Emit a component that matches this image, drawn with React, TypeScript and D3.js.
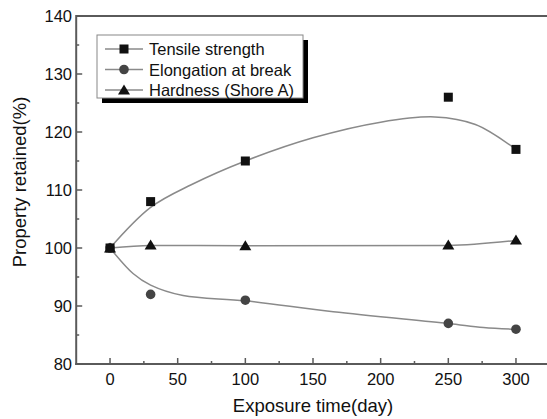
import React from "react";
import * as d3 from "d3";

const days = [0, 30, 100, 250, 300];
const tensile = [100, 108, 115, 126, 117];
const elongation = [100, 92, 91, 87, 86];
const hardness = [100, 100.5, 100.4, 100.5, 101.4];

// smoothed fit curves
const tensileFitDays = [0, 30, 60, 100, 150, 200, 240, 270, 300];
const tensileFitVals = [100, 107, 110.9, 115, 119, 121.7, 122.6, 121.3, 117];
const elongFitDays = [0, 17, 30, 54, 100, 165, 250, 276, 300];
const elongFitVals = [100, 95.6, 93.6, 91.8, 90.9, 89.0, 87.0, 86.3, 86];
const hardFitDays = [0, 30, 100, 250, 300];
const hardFitVals = [100, 100.45, 100.4, 100.45, 101.3];

const xMajor = [0, 50, 100, 150, 200, 250, 300];
const xMinor = [25, 75, 125, 175, 225, 275];
const yMajor = [80, 90, 100, 110, 120, 130, 140];
const yMinor = [85, 95, 105, 115, 125, 135];

const legendLabels = ["Tensile strength", "Elongation at break", "Hardness (Shore A)"];

const W = 547;
const H = 419;
const FONT = "'Liberation Sans', Arial, sans-serif";

export default function App() {
  const x = d3.scaleLinear().domain([-25, 325]).range([76.2, 549.8]);
  const y = d3.scaleLinear().domain([80, 140]).range([364, 16]);
  const line = d3
    .line<[number, number]>()
    .x((d) => x(d[0]))
    .y((d) => y(d[1]))
    .curve(d3.curveCatmullRom.alpha(0.5));
  const lineLin = d3
    .line<[number, number]>()
    .x((d) => x(d[0]))
    .y((d) => y(d[1]))
    .curve(d3.curveMonotoneX);

  const zip = (a: number[], b: number[]) => a.map((v, i) => [v, b[i]] as [number, number]);

  const axisColor = "#5a5a5a";
  const curveColor = "#8a8a8a";

  const square = (cx: number, cy: number, k: string) => (
    <rect key={k} x={cx - 4.5} y={cy - 4.5} width={9} height={9} fill="#111" />
  );
  const circle = (cx: number, cy: number, k: string) => (
    <circle key={k} cx={cx} cy={cy} r={4.8} fill="#444" />
  );
  const tri = (cx: number, cy: number, k: string) => (
    <path key={k} d={`M${cx},${cy - 5.5}L${cx + 6},${cy + 4.5}L${cx - 6},${cy + 4.5}Z`} fill="#111" />
  );

  const markers = [square, circle, tri];
  const left = x(-25);
  const bottom = y(80);

  return (
    <svg width={W} height={H} style={{ position: "absolute", left: 0, top: 0, background: "#fff" }} fontFamily={FONT}>
      {/* frame */}
      <line x1={left} x2={W} y1={y(140)} y2={y(140)} stroke={axisColor} strokeWidth={2} />
      <line x1={left} x2={left} y1={y(140) - 1} y2={bottom + 1} stroke={axisColor} strokeWidth={2} />
      <line x1={left - 1} x2={W} y1={bottom} y2={bottom} stroke={axisColor} strokeWidth={2} />

      {/* x ticks */}
      {xMajor.map((t) => (
        <g key={"xm" + t}>
          <line x1={x(t)} x2={x(t)} y1={bottom} y2={bottom - 6} stroke={axisColor} strokeWidth={1.5} />
          <text x={x(t)} y={385} textAnchor="middle" fontSize={16.5} fill="#111">
            {t}
          </text>
        </g>
      ))}
      {xMinor.map((t) => (
        <line key={"xn" + t} x1={x(t)} x2={x(t)} y1={bottom} y2={bottom - 3} stroke={axisColor} strokeWidth={1.5} />
      ))}

      {/* y ticks */}
      {yMajor.map((t) => (
        <g key={"ym" + t}>
          <line x1={left} x2={left + 6} y1={y(t)} y2={y(t)} stroke={axisColor} strokeWidth={1.5} />
          <text x={72} y={y(t)} textAnchor="end" dominantBaseline="central" fontSize={16.5} fill="#111">
            {t}
          </text>
        </g>
      ))}
      {yMinor.map((t) => (
        <line key={"yn" + t} x1={left} x2={left + 3} y1={y(t)} y2={y(t)} stroke={axisColor} strokeWidth={1.5} />
      ))}

      {/* axis titles */}
      <text x={313} y={412} textAnchor="middle" fontSize={18.5} fill="#111">
        Exposure time(day)
      </text>
      <text transform="translate(26,182) rotate(-90)" textAnchor="middle" fontSize={18.5} fill="#111">
        Property retained(%)
      </text>

      {/* fit curves */}
      <path d={line(zip(tensileFitDays, tensileFitVals)) || ""} fill="none" stroke={curveColor} strokeWidth={1.5} />
      <path d={line(zip(elongFitDays, elongFitVals)) || ""} fill="none" stroke={curveColor} strokeWidth={1.5} />
      <path d={lineLin(zip(hardFitDays, hardFitVals)) || ""} fill="none" stroke={curveColor} strokeWidth={1.5} />

      {/* markers */}
      {days.map((d, i) => circle(x(d), y(elongation[i]), "e" + i))}
      {days.map((d, i) => square(x(d), y(tensile[i]), "t" + i))}
      {days.map((d, i) => tri(x(d), y(hardness[i]), "h" + i))}

      {/* legend */}
      <rect x={102} y={40} width={206} height={63} fill="#000" />
      <rect x={97} y={35} width={206} height={63} fill="#fff" stroke="#888" strokeWidth={1} />
      {legendLabels.map((lab, i) => {
        const ly = 49 + i * 20.5;
        return (
          <g key={"lg" + i}>
            <line x1={105} x2={143} y1={ly} y2={ly} stroke={curveColor} strokeWidth={1.5} />
            {markers[i](124, ly, "lm" + i)}
            <text x={149} y={ly} dominantBaseline="central" fontSize={16.5} fill="#111">
              {lab}
            </text>
          </g>
        );
      })}
    </svg>
  );
}
